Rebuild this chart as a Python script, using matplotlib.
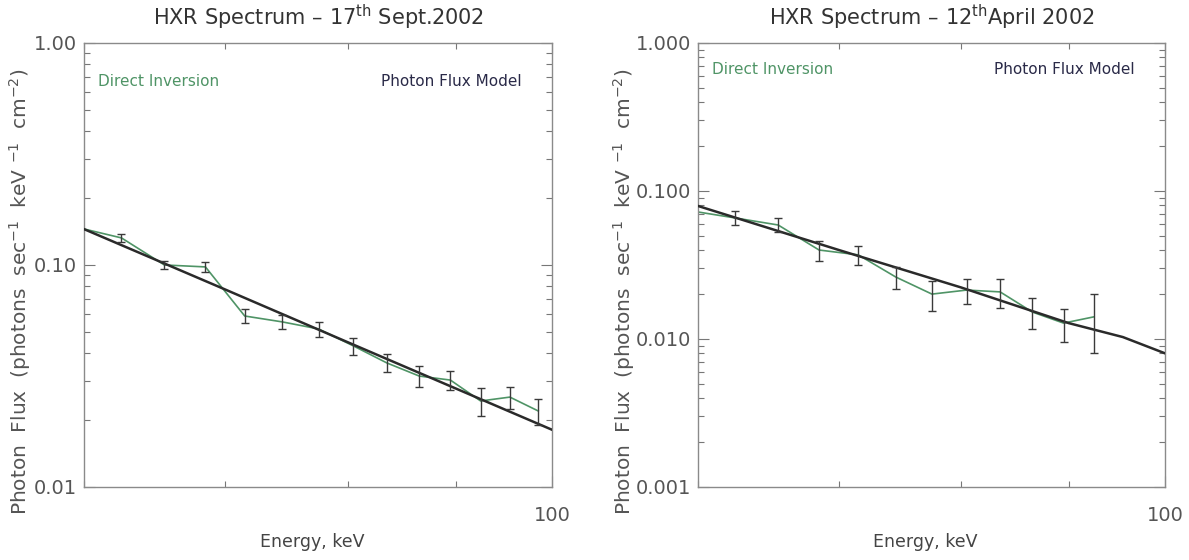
import matplotlib
matplotlib.use("Agg")
import matplotlib.pyplot as plt
from matplotlib import ticker

# energies of the direct inversion points (keV)
energy_sep = [59.5, 62.5, 65.5, 68.5, 71.5, 74.5, 77.5, 80.5, 83.5, 86.5, 89.5, 92.5, 95.5, 98.5]
flux_sep = [0.148, 0.1324, 0.100, 0.098, 0.0589, 0.0554, 0.0515, 0.0432, 0.0362,
            0.0316, 0.0303, 0.0244, 0.0254, 0.0220]
err_sep = [0.0, 0.0055, 0.0040, 0.0047, 0.0043, 0.0040, 0.0040, 0.0037, 0.0034,
           0.0033, 0.0030, 0.0036, 0.0029, 0.0030]

model_e_sep = [60, 70, 80, 90, 100]
model_sep = [0.145, 0.0775, 0.0449, 0.0278, 0.0181]

energy_apr = [59.5, 62.5, 65.5, 68.5, 71.5, 74.5, 77.5, 80.5, 83.5, 86.5, 89.5, 92.5]
flux_apr = [0.0735, 0.0657, 0.0589, 0.0399, 0.0370, 0.0262, 0.0201, 0.0214, 0.0208,
            0.0152, 0.0128, 0.0141]
err_apr = [0.0, 0.0071, 0.0064, 0.0062, 0.0054, 0.0044, 0.0046, 0.0041, 0.0045,
           0.0036, 0.0032, 0.0061]

model_e_apr = [60, 70, 80, 90, 95.5, 100]
model_apr = [0.0792, 0.0399, 0.0223, 0.0128, 0.0103, 0.0080]

titles = ["HXR Spectrum \u2013 17$^{\\mathregular{th}}$ Sept.2002",
          "HXR Spectrum \u2013 12$^{\\mathregular{th}}$April 2002"]
ylims = [(0.01, 1.0), (0.001, 1.0)]
yfmt = ["{:.2f}", "{:.3f}"]

GREEN = "#4f9466"
DARK = "#2a2a2a"
GRAY = "#555555"

fig = plt.figure(figsize=(11.89, 5.6), dpi=100)

panels = [
    (energy_sep, flux_sep, err_sep, model_e_sep, model_sep),
    (energy_apr, flux_apr, err_apr, model_e_apr, model_apr),
]
positions = [[0.0707, 0.1304, 0.3936, 0.7929], [0.5870, 0.1304, 0.3928, 0.7929]]
ylabel_x = [-0.137, -0.158]

for i, (e, f, err, me, mf) in enumerate(panels):
    ax = fig.add_axes(positions[i])
    ax.set_xscale("log")
    ax.set_yscale("log")

    ax.plot(e, f, color=GREEN, lw=1.2, zorder=2)
    ax.plot(me, mf, color=DARK, lw=1.8, zorder=3)
    ax.errorbar(e, f, yerr=err, fmt="none", ecolor="#3a3a3a", elinewidth=1.0,
                capsize=3, capthick=1.0, zorder=4)

    ax.set_xlim(60, 100)
    ax.set_ylim(*ylims[i])

    ax.xaxis.set_major_locator(ticker.FixedLocator([100]))
    ax.xaxis.set_minor_locator(ticker.FixedLocator([60, 70, 80, 90]))
    ax.xaxis.set_major_formatter(ticker.FuncFormatter(lambda v, p: "%d" % v))
    ax.xaxis.set_minor_formatter(ticker.NullFormatter())

    ax.yaxis.set_major_locator(ticker.LogLocator(base=10))
    ax.yaxis.set_minor_locator(ticker.LogLocator(base=10, subs=range(2, 10)))
    fmt = yfmt[i]
    ax.yaxis.set_major_formatter(ticker.FuncFormatter(lambda v, p, fmt=fmt: fmt.format(v)))
    ax.yaxis.set_minor_formatter(ticker.NullFormatter())

    ax.tick_params(which="both", direction="in", top=True, right=True,
                   colors="#777777", labelcolor=GRAY, labelsize=14)
    ax.tick_params(which="major", length=8, width=0.8)
    ax.tick_params(which="minor", length=4, width=0.8)
    ax.tick_params(axis="x", pad=14)
    ax.tick_params(axis="y", pad=5)
    for s in ax.spines.values():
        s.set_color("#8a8a8a")
        s.set_linewidth(1.0)

    ax.set_title(titles[i], fontsize=15, color="#333333", pad=13)

    ax.text(0.487, -0.125, "Energy, keV", transform=ax.transAxes, ha="center",
            va="center", fontsize=12.5, color="#444444")
    ax.text(ylabel_x[i], 0.44,
            "Photon  Flux  (photons  sec$^{-1}$  keV $^{-1}$  cm$^{-2}$)",
            transform=ax.transAxes, rotation=90, ha="center", va="center",
            fontsize=14.5, color=GRAY)

    yt = 0.914 if i == 0 else 0.94
    ax.text(0.03, yt, "Direct Inversion", transform=ax.transAxes, ha="left",
            va="center", fontsize=11, color=GREEN)
    ax.text(0.936, yt, "Photon Flux Model", transform=ax.transAxes, ha="right",
            va="center", fontsize=11, color="#2a2a48")

fig.savefig("out.png", dpi=100)
